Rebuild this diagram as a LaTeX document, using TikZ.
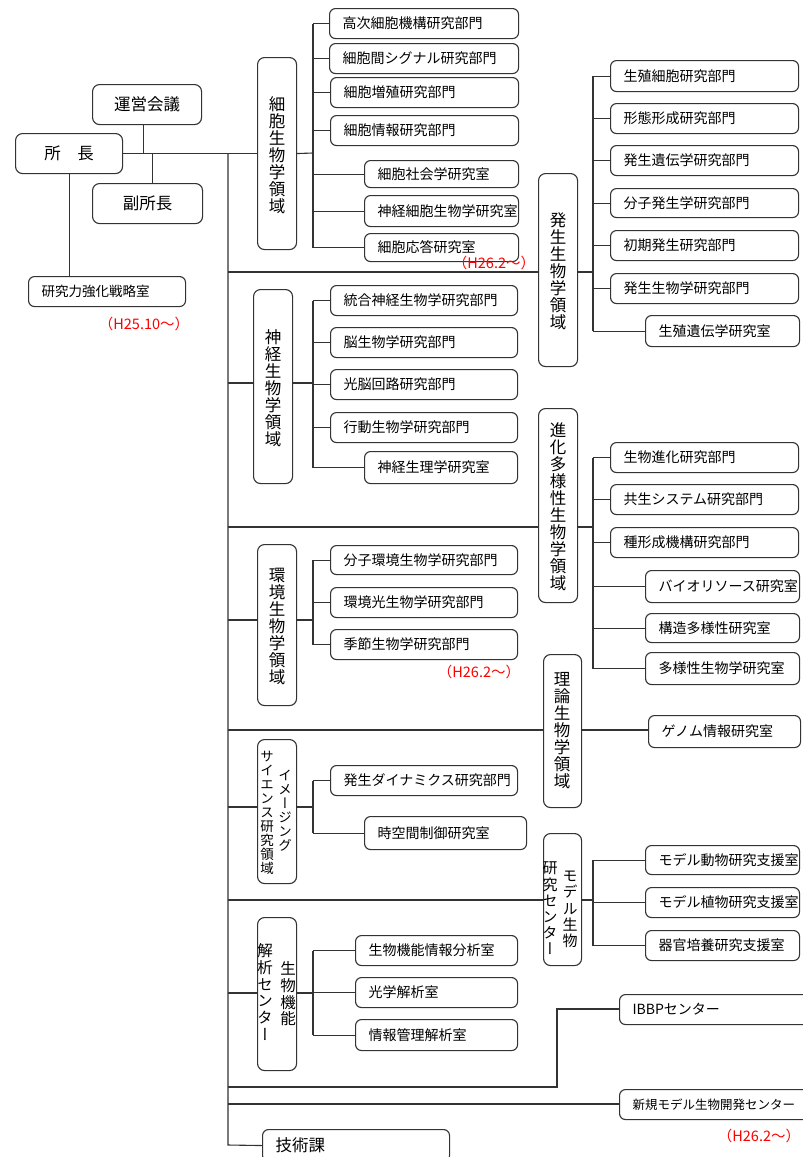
\documentclass[tikz,border=0pt]{standalone}
\usepackage{fontspec}
\setmainfont{Noto Sans CJK JP}
\newfontfamily\vjp[RawFeature=+vert]{Noto Sans CJK JP}
\tikzset{
  ln/.style={draw=black!80, line width=1.1pt},
  bx/.style={draw=black!80, line width=1.1pt, rounded corners=6pt, align=left, inner xsep=13pt, inner ysep=0pt, font=\fontsize{14}{15}\selectfont, fill=white},
  cbox/.style={draw=black!80, line width=1.1pt, rounded corners=7pt, align=center, inner sep=0pt, font=\fontsize{16.5}{18}\selectfont, fill=white},
  dom/.style={draw=black!80, line width=1.1pt, rounded corners=7pt, inner sep=0pt},
  vt/.style={align=center, inner sep=0pt, font=\vjp\fontsize{16.5}{17}\selectfont},
  vts/.style={align=center, inner sep=0pt, font=\vjp\fontsize{13.5}{14}\selectfont},
  vtm/.style={align=center, inner sep=0pt, font=\vjp\fontsize{15}{16.2}\selectfont},
  vtl/.style={align=center, inner sep=0pt, font=\vjp\fontsize{15.5}{16.9}\selectfont},
  redtxt/.style={text=red, inner sep=0pt, font=\fontsize{14.5}{16}\selectfont}
}
\newcommand\leaf[7][14]{%
  \pgfmathsetmacro\lw{#5-#3-26}\pgfmathsetmacro\lh{#6-#4}%
  \node[bx, font=\fontsize{#1}{#1}\selectfont, anchor=north west, text width=\lw pt, minimum height=\lh pt] (#2) at (#3,#4) {#7};}
\newcommand\cb[6]{%
  \pgfmathsetmacro\lw{#4-#2}\pgfmathsetmacro\lh{#5-#3}%
  \node[cbox, anchor=north west, minimum width=\lw pt, minimum height=\lh pt] (#1) at (#2,#3) {#6};}
\newcommand\dbox[5]{%
  \pgfmathsetmacro\lw{#4-#2}\pgfmathsetmacro\lh{#5-#3}%
  \node[dom, anchor=north west, minimum width=\lw pt, minimum height=\lh pt] (#1) at (#2,#3) {};}
\begin{document}
\begin{tikzpicture}[x=1pt,y=-1pt]
\clip (0,0) rectangle (803,1157);
\fill[white] (0,0) rectangle (803,1157);

% ---- top management
\cb{shocho}{15}{133}{122}{173}{所　長}
\cb{unei}{92}{84}{201}{124}{運営会議}
\cb{fuku}{92}{183}{202}{223}{副所長}
\leaf[13.5]{senryaku}{28}{276}{185}{306}{研究力強化戦略室}
\node[redtxt] (r1) at (144,324) {（H25.10～）};

% ---- trunk
\coordinate (tA) at (228,153);
\coordinate (tB) at (228,1145);
\coordinate (t2) at (228,272);
\coordinate (t3) at (228,383);
\coordinate (t4) at (228,527);
\coordinate (t5) at (228,620);
\coordinate (t6) at (228,730);
\coordinate (t7) at (228,807);
\coordinate (t8) at (228,900);
\coordinate (t9) at (228,993);
\coordinate (t10) at (228,1087);
\coordinate (t11) at (228,1104);

% ---- domain boxes
\dbox{d1}{257}{57}{296}{249}
\node[vt] (d1t) at (277,155) {細\\胞\\生\\物\\学\\領\\域};
\dbox{d2}{538}{173}{577}{366}
\node[vt] (d2t) at (558,271) {発\\生\\生\\物\\学\\領\\域};
\dbox{d3}{253}{289}{292}{483}
\node[vt] (d3t) at (273,388) {神\\経\\生\\物\\学\\領\\域};
\dbox{d4}{538}{408}{577}{602}
\node[vt] (d4t) at (558,507) {進\\化\\多\\様\\性\\生\\物\\学\\領\\域};
\dbox{d5}{257}{544}{296}{705}
\node[vt] (d5t) at (277,626) {環\\境\\生\\物\\学\\領\\域};
\dbox{d6}{543}{654}{581}{807}
\node[vt] (d6t) at (562,731) {理\\論\\生\\物\\学\\領\\域};
\dbox{d7}{257}{739}{296}{883}
\node[vts, anchor=north] (d7a) at (285,770) {イ\\メ\\ー\\ジ\\ン\\グ};
\node[vts, anchor=north] (d7b) at (267,751) {サ\\イ\\エ\\ン\\ス\\研\\究\\領\\域};
\dbox{d8}{543}{833}{581}{965}
\node[vtm, anchor=north] (d8a) at (570,871) {モ\\デ\\ル\\生\\物};
\node[vtm, anchor=north] (d8b) at (550,862) {研\\究\\セ\\ン\\タ\\ー};
\dbox{d9}{257}{917}{296}{1070}
\node[vtl, anchor=north] (d9a) at (288,961) {生\\物\\機\\能};
\node[vtl, anchor=north] (d9b) at (265,943) {解\\析\\セ\\ン\\タ\\ー};

% ---- leaves: cell biology
\leaf{a1}{329}{8}{518}{38}{高次細胞機構研究部門}
\leaf{a2}{329}{43}{518}{73}{細胞間シグナル研究部門}
\leaf{a3}{330}{77}{518}{107}{細胞増殖研究部門}
\leaf{a4}{330}{115}{518}{145}{細胞情報研究部門}
\leaf{a5}{364}{160}{518}{187}{細胞社会学研究室}
\leaf{a6}{364}{195}{518}{226}{神経細胞生物学研究室}
\leaf{a7}{364}{233}{518}{261}{細胞応答研究室}

% ---- developmental biology
\leaf{b1}{610}{60}{798}{91}{生殖細胞研究部門}
\leaf{b2}{610}{103}{798}{133}{形態形成研究部門}
\leaf{b3}{610}{145}{798}{175}{発生遺伝学研究部門}
\leaf{b4}{610}{188}{798}{217}{分子発生学研究部門}
\leaf{b5}{610}{230}{798}{260}{初期発生研究部門}
\leaf{b6}{610}{273}{798}{303}{発生生物学研究部門}
\leaf{b7}{645}{315}{799}{346}{生殖遺伝学研究室}

% ---- neurobiology
\leaf{c1}{330}{285}{517}{315}{統合神経生物学研究部門}
\leaf{c2}{330}{327}{517}{357}{脳生物学研究部門}
\leaf{c3}{330}{369}{517}{399}{光脳回路研究部門}
\leaf{c4}{330}{412}{517}{442}{行動生物学研究部門}
\leaf{c5}{364}{451}{517}{483}{神経生理学研究室}

% ---- evolution
\leaf{e1}{610}{442}{798}{472}{生物進化研究部門}
\leaf{e2}{610}{484}{798}{514}{共生システム研究部門}
\leaf{e3}{610}{527}{798}{557}{種形成機構研究部門}
\leaf{e4}{645}{570}{799}{602}{バイオリソース研究室}
\leaf{e5}{645}{613}{799}{642}{構造多様性研究室}
\leaf{e6}{645}{652}{799}{684}{多様性生物学研究室}

% ---- environment
\leaf{f1}{330}{545}{517}{574}{分子環境生物学研究部門}
\leaf{f2}{330}{587}{517}{617}{環境光生物学研究部門}
\leaf{f3}{330}{629}{517}{659}{季節生物学研究部門}

% ---- theory
\leaf{g1}{648}{715}{800}{747}{ゲノム情報研究室}

% ---- imaging
\leaf{h1}{330}{765}{517}{795}{発生ダイナミクス研究部門}
\leaf{h2}{364}{816}{526}{849}{時空間制御研究室}

% ---- model organism
\leaf{m1}{645}{845}{799}{874}{モデル動物研究支援室}
\leaf{m2}{645}{887}{799}{917}{モデル植物研究支援室}
\leaf{m3}{645}{930}{799}{960}{器官培養研究支援室}

% ---- bio function
\leaf{k1}{355}{935}{517}{965}{生物機能情報分析室}
\leaf{k2}{355}{977}{517}{1007}{光学解析室}
\leaf{k3}{355}{1019}{517}{1050}{情報管理解析室}

% ---- centers
\leaf{ibbp}{619}{994}{830}{1024}{IBBPセンター}
\leaf[12.5]{shinki}{619}{1089}{830}{1119}{新規モデル生物開発センター}
\leaf[16.5]{gijutsu}{262}{1129}{449}{1161}{技術課}

% ---- red notes
\node[redtxt] (r2) at (494,263) {（H26.2～）};
\node[redtxt] (r3) at (479,672) {（H26.2～）};
\node[redtxt] (r4) at (759,1136) {（H26.2～）};

% ---- branch coordinates
\coordinate (p1) at (313,153);
\coordinate (p2) at (593,272);
\coordinate (p3) at (313,383);
\coordinate (p4) at (593,527);
\coordinate (p5) at (313,620);
\coordinate (p7) at (313,807);
\coordinate (p8) at (593,900);
\coordinate (p9) at (313,993);
\coordinate (q1) at (557,1087);
\coordinate (q2) at (557,1009);

\begin{scope}[ln]
% management
\draw (shocho.east) -- (d1.west);
\draw ([xshift=-3.5pt]unei.south) -- ([xshift=-3.5pt]unei.south |- shocho.east);
\draw ([xshift=5pt]fuku.north) -- ([xshift=5pt]fuku.north |- shocho.east);
\draw (shocho.south) -- (shocho.south |- senryaku.north);
% trunk
\draw (tA) -- (tB) -- (gijutsu.west);
\draw (t2) -- (t2 -| d2.west);
\draw (t3) -- (t3 -| d3.west);
\draw (t4) -- (t4 -| d4.west);
\draw (t5) -- (t5 -| d5.west);
\draw (t6) -- (t6 -| d6.west);
\draw (t7) -- (t7 -| d7.west);
\draw (t8) -- (t8 -| d8.west);
\draw (t9) -- (t9 -| d9.west);
\draw (t10) -- (q1) -- (q2) -- (q2 -| ibbp.west);
\draw (t11) -- (t11 -| shinki.west);
% cell biology
\draw (d1.east) -- (p1);
\draw (a1.west -| p1) -- (a7.west -| p1);
\foreach \n in {a1,a2,a3,a4,a5,a6,a7} \draw (\n.west -| p1) -- (\n.west);
% developmental
\draw (t2 -| d2.east) -- (p2);
\draw (b1.west -| p2) -- (b7.west -| p2);
\foreach \n in {b1,b2,b3,b4,b5,b6,b7} \draw (\n.west -| p2) -- (\n.west);
% neuro
\draw (t3 -| d3.east) -- (p3);
\draw (c1.west -| p3) -- (c5.west -| p3);
\foreach \n in {c1,c2,c3,c4,c5} \draw (\n.west -| p3) -- (\n.west);
% evolution
\draw (t4 -| d4.east) -- (p4);
\draw (e1.west -| p4) -- (e6.west -| p4);
\foreach \n in {e1,e2,e3,e4,e5,e6} \draw (\n.west -| p4) -- (\n.west);
% environment
\draw (t5 -| d5.east) -- (p5);
\draw (f1.west -| p5) -- (f3.west -| p5);
\foreach \n in {f1,f2,f3} \draw (\n.west -| p5) -- (\n.west);
% theory
\draw (t6 -| d6.east) -- (t6 -| g1.west);
% imaging
\draw (t7 -| d7.east) -- (p7);
\draw (h1.west -| p7) -- (h2.west -| p7);
\foreach \n in {h1,h2} \draw (\n.west -| p7) -- (\n.west);
% model organism
\draw (t8 -| d8.east) -- (p8);
\draw (m1.west -| p8) -- (m3.west -| p8);
\foreach \n in {m1,m2,m3} \draw (\n.west -| p8) -- (\n.west);
% bio function
\draw (t9 -| d9.east) -- (p9);
\draw (k1.west -| p9) -- (k3.west -| p9);
\foreach \n in {k1,k2,k3} \draw (\n.west -| p9) -- (\n.west);
\end{scope}
\end{tikzpicture}
\end{document}
